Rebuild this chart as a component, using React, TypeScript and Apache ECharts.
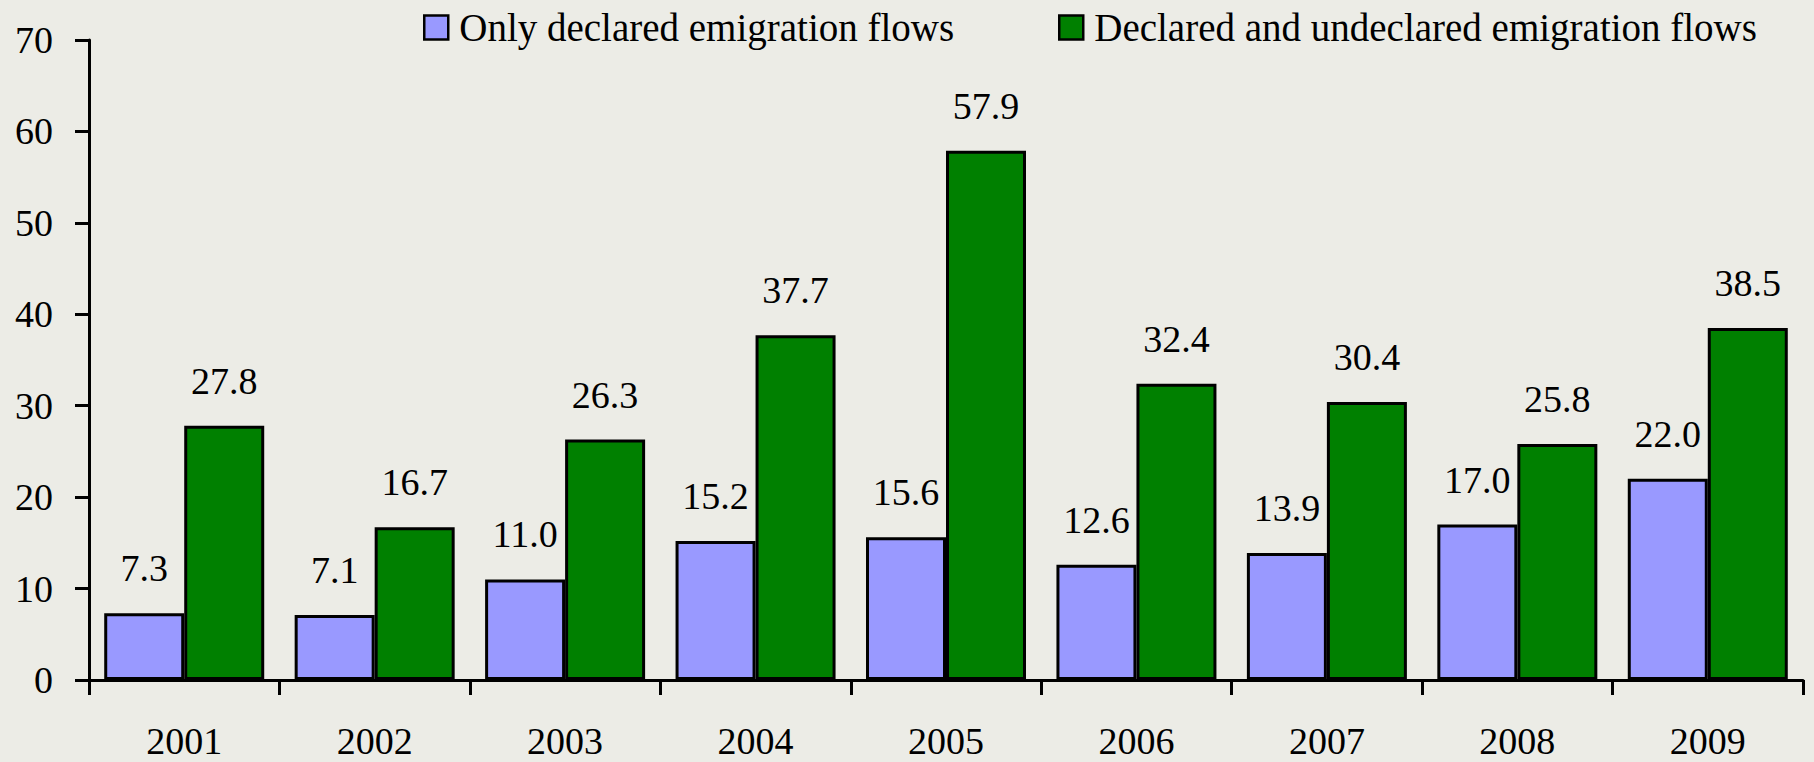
import React, { useEffect, useRef } from "react";
import * as echarts from "echarts";

const years = ["2001", "2002", "2003", "2004", "2005", "2006", "2007", "2008", "2009"];
const declaredOnly = [7.3, 7.1, 11.0, 15.2, 15.6, 12.6, 13.9, 17.0, 22.0];
const declaredAndUndeclared = [27.8, 16.7, 26.3, 37.7, 57.9, 32.4, 30.4, 25.8, 38.5];
const seriesNames = ["Only declared emigration flows", "Declared and undeclared emigration flows"];
const yTicks = { min: 0, max: 70, interval: 10 };

const FONT = "Liberation Serif";

export default function App() {
  const ref = useRef<HTMLDivElement>(null);

  useEffect(() => {
    if (!ref.current) return;
    const chart = echarts.init(ref.current, undefined, { renderer: "svg" });
    const labelStyle = {
      show: true,
      position: "top" as const,
      distance: 26,
      color: "#000",
      fontFamily: FONT,
      fontSize: 38,
      formatter: (p: any) => Number(p.value).toFixed(1),
    };
    const legendText = { fontFamily: FONT, fontSize: 39, color: "#000", padding: [0, 0, 0, 6] };
    chart.setOption({
      animation: false,
      backgroundColor: "#ECECE6",
      textStyle: { fontFamily: FONT, color: "#000" },
      legend: [
        {
          data: [seriesNames[0]],
          left: 418,
          top: 3,
          itemWidth: 24,
          itemHeight: 24,
          icon: "rect",
          itemStyle: { borderWidth: 2.5, borderColor: "#000" },
          textStyle: legendText,
        },
        {
          data: [seriesNames[1]],
          left: 1053,
          top: 3,
          itemWidth: 24,
          itemHeight: 24,
          icon: "rect",
          itemStyle: { borderWidth: 2.5, borderColor: "#000" },
          textStyle: legendText,
        },
      ],
      grid: { left: 89, right: 11, top: 40, bottom: 82, containLabel: false },
      xAxis: {
        type: "category",
        data: years,
        boundaryGap: true,
        axisLine: { lineStyle: { color: "#000", width: 3 } },
        axisTick: { show: true, length: 15, lineStyle: { color: "#000", width: 3 } },
        axisLabel: { margin: 42, fontFamily: FONT, fontSize: 38, color: "#000" },
        splitLine: { show: false },
      },
      yAxis: {
        type: "value",
        min: yTicks.min,
        max: yTicks.max,
        interval: yTicks.interval,
        axisLine: { show: true, lineStyle: { color: "#000", width: 3 } },
        axisTick: { show: true, length: 14, lineStyle: { color: "#000", width: 3 } },
        axisLabel: { margin: 36, fontFamily: FONT, fontSize: 38, color: "#000" },
        splitLine: { show: false },
      },
      series: [
        {
          name: seriesNames[0],
          type: "bar",
          data: declaredOnly,
          barWidth: 80,
          barGap: "0%",
          itemStyle: { color: "#9999FF", borderColor: "#000", borderWidth: 3 },
          label: labelStyle,
        },
        {
          name: seriesNames[1],
          type: "bar",
          data: declaredAndUndeclared,
          barWidth: 80,
          barGap: "0%",
          itemStyle: { color: "#008000", borderColor: "#000", borderWidth: 3 },
          label: labelStyle,
        },
      ],
    });
    return () => chart.dispose();
  }, []);

  return (
    <div
      ref={ref}
      style={{ position: "absolute", left: 0, top: 0, width: 1814, height: 762 }}
    />
  );
}
